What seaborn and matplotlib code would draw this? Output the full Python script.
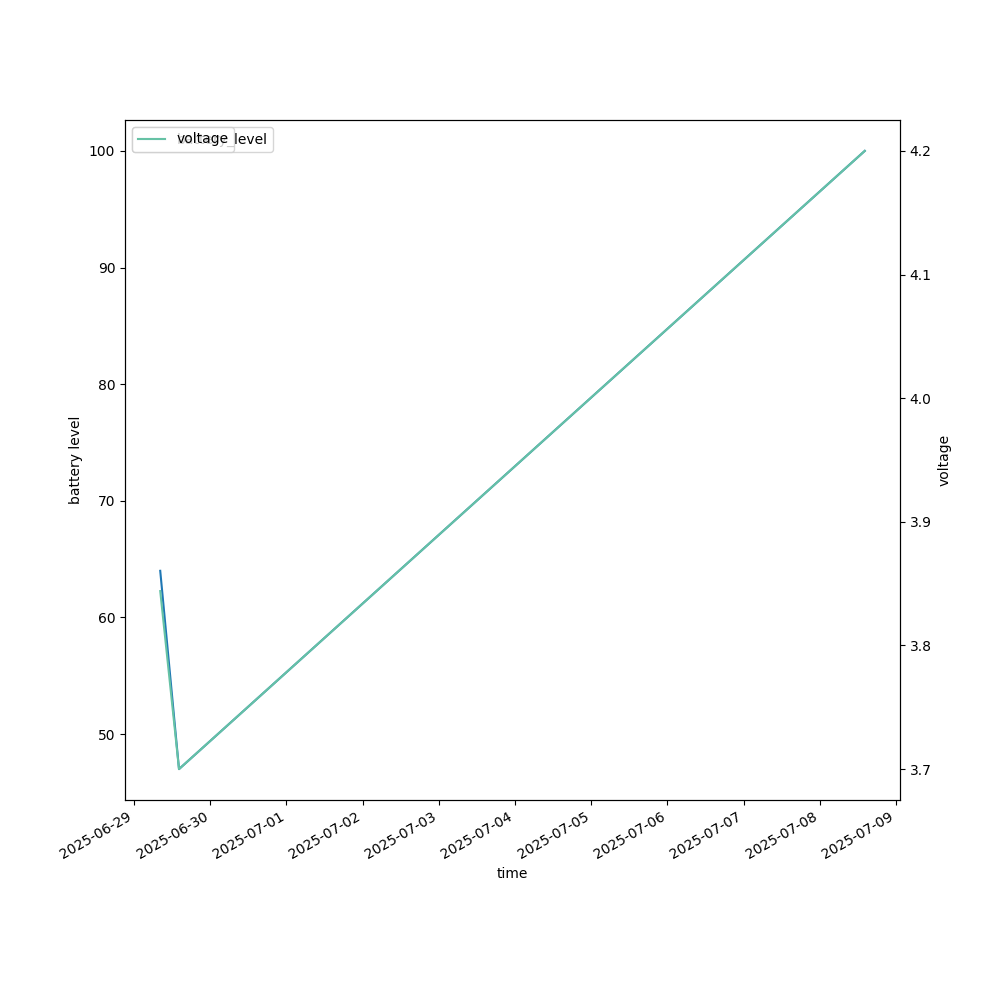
import pandas as pd
import seaborn as sns
import matplotlib.pyplot as plt

# readings
times = ["2025-06-29 08:15", "2025-06-29 14:10", "2025-07-08 14:10"]
battery_level = [64, 47, 100]
voltage = [3.844, 3.70, 4.20]

df = pd.DataFrame({"time": pd.to_datetime(times),
                   "battery_level": battery_level,
                   "voltage": voltage})

fig, ax1 = plt.subplots(figsize=(10, 10))
sns.lineplot(data=df, x="time", y="battery_level", ax=ax1, label="battery_level", color="tab:blue")
ax1.set_ylabel("battery level")
ax1.legend(loc="upper left")

# second axis shares time, legend drawn in the same corner
ax2 = ax1.twinx()
sns.lineplot(data=df, x="time", y="voltage", ax=ax2, label="voltage", color=sns.color_palette("Set2")[0])
ax2.set_ylabel("voltage")
ax2.legend(loc="upper left")

ax1.set_xlabel("time")
fig.autofmt_xdate()
plt.savefig("out.png")
